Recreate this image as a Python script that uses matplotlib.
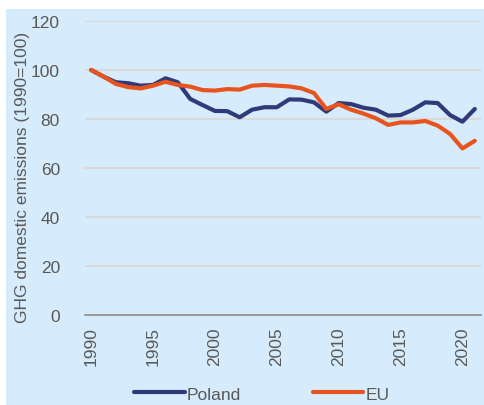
import matplotlib
matplotlib.use("Agg")
import matplotlib.pyplot as plt
from matplotlib.patches import Rectangle

# data (index, 1990 = 100)
years = list(range(1990, 2022))
poland = [100, 97.3, 95, 94.6, 93.6, 93.9, 96.6, 95, 88.2, 85.7, 83.3, 83.2, 80.7, 83.8, 84.8, 84.8,
          88, 87.9, 86.8, 83, 86.5, 86.1, 84.6, 83.8, 81.4, 81.6, 83.8, 86.8, 86.5, 81.6, 78.9, 84.1]
eu = [100, 97.3, 94.3, 93, 92.5, 93.6, 95.2, 93.9, 93.2, 91.8, 91.6, 92.2, 92, 93.6, 93.9, 93.6,
      93.3, 92.5, 90.6, 84.1, 86, 83.8, 82.2, 80.3, 77.6, 78.6, 78.6, 79.2, 77.3, 73.9, 68, 71.1]
xticks = [1990, 1995, 2000, 2005, 2010, 2015, 2020]
yticks = [0, 20, 40, 60, 80, 100, 120]

bg = '#D6EBFC'
txt = '#595959'
plt.rcParams['font.family'] = ['Liberation Sans', 'DejaVu Sans']

fig = plt.figure(figsize=(4.85, 4.06), dpi=100)
fig.patch.set_facecolor('white')
# blue panel behind everything, leaves thin white margin top/left
fig.patches.append(Rectangle((6 / 485, 0), 1, 1 - 10 / 406, transform=fig.transFigure,
                             facecolor=bg, edgecolor='none', zorder=-10))

ax = fig.add_axes([85 / 485, 90 / 406, 396 / 485, 294 / 406])
ax.set_facecolor('none')

ax.plot(years, poland, color='#303A78', lw=3.0, label='Poland', solid_capstyle='round', zorder=3)
ax.plot(years, eu, color='#E8541E', lw=3.0, label='EU', solid_capstyle='round', zorder=3)

ax.set_xlim(1989.5, 2021.5)
ax.set_ylim(0, 120)
ax.set_yticks(yticks)
ax.set_xticks(xticks)
ax.set_xticklabels([str(x) for x in xticks], rotation=90)
ax.tick_params(axis='both', length=0, labelsize=12.5, colors=txt)
ax.tick_params(axis='y', pad=18)
ax.tick_params(axis='x', pad=8)
ax.grid(axis='y', color='#D9D9D9', lw=1.5)
ax.set_axisbelow(True)
for s in ['top', 'right', 'left']:
    ax.spines[s].set_visible(False)
ax.spines['bottom'].set_color('#8C8C8C')
ax.spines['bottom'].set_linewidth(1.2)

ax.set_ylabel('GHG domestic emissions (1990=100)', fontsize=12.5, color=txt)
ax.yaxis.set_label_coords(-0.138, 0.47)

fig.legend(loc='lower center', bbox_to_anchor=(0.54, -0.03), ncol=2, frameon=False,
           fontsize=12.5, handlelength=2.9, handletextpad=0.15, columnspacing=4.1,
           labelcolor=txt)

fig.savefig('out.png', dpi=100)
